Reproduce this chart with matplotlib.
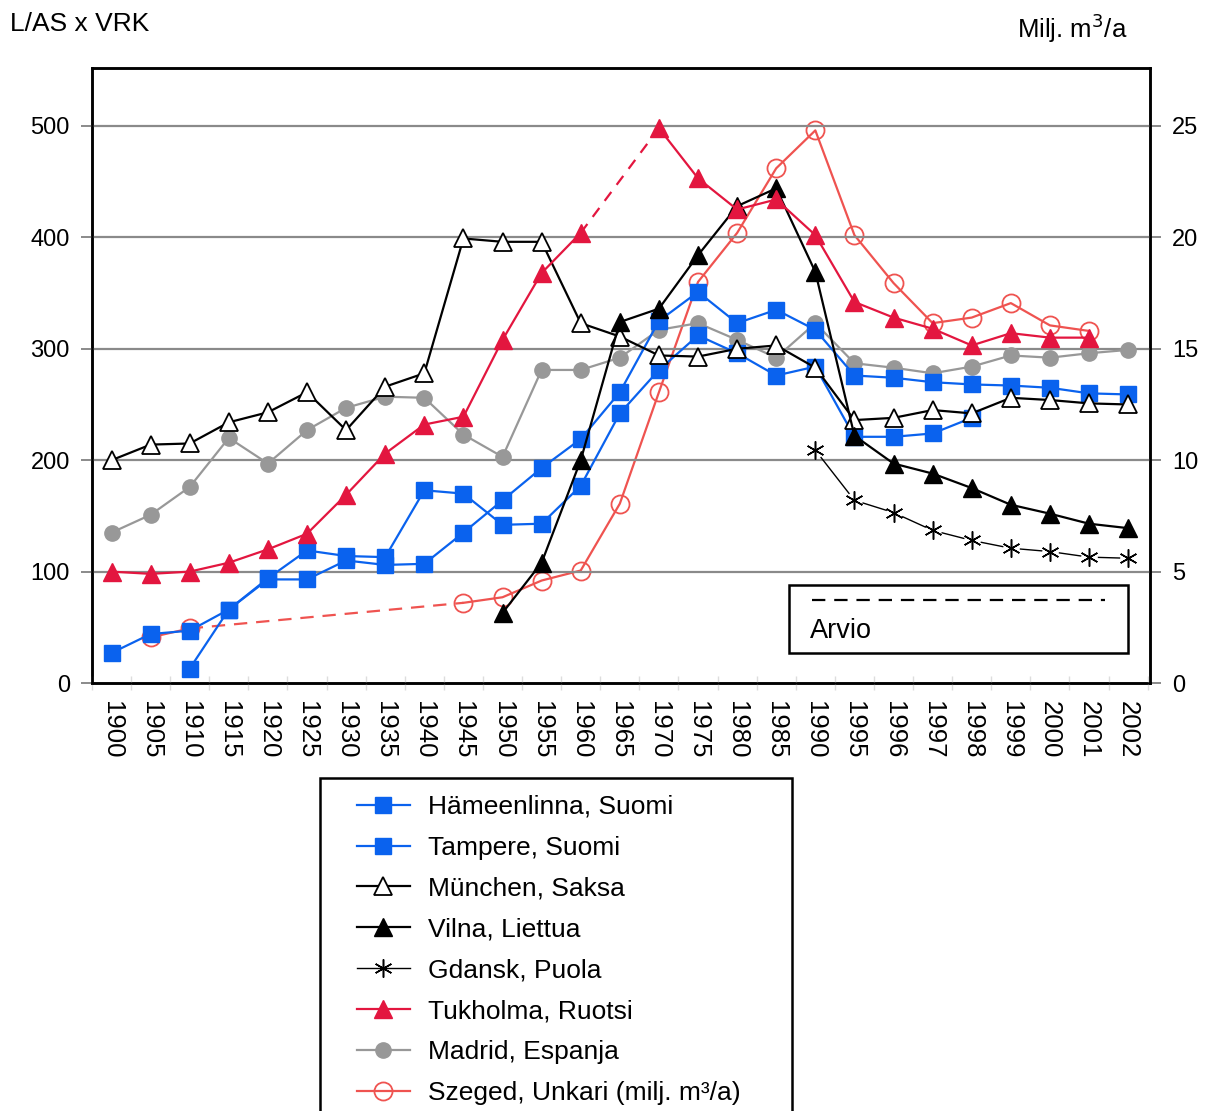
import numpy as np
import matplotlib
matplotlib.use("Agg")
import matplotlib.pyplot as plt
from matplotlib.lines import Line2D
from matplotlib.patches import Rectangle

plt.rcParams['font.family'] = ['Liberation Sans', 'DejaVu Sans']

years = ["1900", "1905", "1910", "1915", "1920", "1925", "1930", "1935", "1940", "1945",
         "1950", "1955", "1960", "1965", "1970", "1975", "1980", "1985", "1990",
         "1995", "1996", "1997", "1998", "1999", "2000", "2001", "2002"]
nan = np.nan

hameenlinna = [27, 44, 47, 66, 94, 119, 114, 113, 173, 170,
               142, 143, 177, 242, 281, 312, 296, 276, 284,
               221, 221, 224, 238, nan, nan, nan, nan]
tampere = [nan, nan, 13, 66, 93, 93, 110, 106, 107, 135,
           164, 193, 219, 261, 325, 351, 323, 335, 317,
           276, 274, 270, 268, 267, 265, 260, 259]
munchen = [200, 214, 215, 234, 243, 261, 227, 266, 278, 399,
           396, 396, 323, 311, 294, 293, 300, 303, 283,
           236, 238, 245, 242, 256, 254, 251, 250]
vilna = [nan, nan, nan, nan, nan, nan, nan, nan, nan, nan,
         63, 108, 200, 324, 336, 384, 428, 444, 369,
         222, 197, 188, 175, 160, 152, 143, 139]
gdansk = [nan] * 18 + [209, 164, 153, 137, 128, 121, 118, 113, 112]
tukholma = [100, 98, 100, 108, 120, 134, 169, 206, 232, 239,
            308, 368, 404, nan, 498, 453, 425, 434, 402,
            342, 328, 318, 303, 314, 310, 310, nan]
madrid = [135, 151, 176, 220, 197, 227, 247, 257, 256, 223,
          203, 281, 281, 292, 317, 323, 308, 292, 323,
          287, 283, 278, 284, 294, 292, 296, 299]
# Szeged in milj. m3/a (right axis)
szeged = [nan, 2.05, 2.45, nan, nan, nan, nan, nan, nan, 3.6,
          3.85, 4.6, 5.05, 8.05, 13.05, 18.0, 20.2, 23.1, 24.8,
          20.1, 17.95, 16.15, 16.4, 17.05, 16.05, 15.8, nan]

x = np.arange(len(years))

BLUE = '#0a62ee'
RED = '#e3163f'
SZ = '#ef5350'
GRAY = '#989898'

fig = plt.figure(figsize=(12.07, 11.11), dpi=100)
ax = fig.add_axes([0.0762, 0.3852, 0.9528 - 0.0762, 0.9388 - 0.3852])
ax2 = ax.twinx()

YMAX = 552
ax.set_ylim(0, YMAX)
ax2.set_ylim(0, YMAX / 20.0)
ax.set_xlim(-0.46, len(years) - 1 + 0.56)

for v in [100, 200, 300, 400, 500]:
    ax.axhline(v, color='#8a8a8a', lw=1.6, zorder=0)

lw = 1.6
# Szeged on right axis (draw first, lies under others)
sz = np.array(szeged)
ax2.plot(x, sz, color=SZ, lw=lw, marker='o', ms=13, mfc='none', mec=SZ, mew=1.3, zorder=3)
ax2.plot(x[[2, 9]], sz[[2, 9]], color=SZ, lw=lw, ls=(0, (6, 4)), zorder=3)

ax.set_zorder(ax2.get_zorder() + 1)
ax.patch.set_visible(False)

ax.plot(x, madrid, color=GRAY, lw=lw, marker='o', ms=11, mfc=GRAY, mec=GRAY, zorder=3)
ax.plot(x, hameenlinna, color=BLUE, lw=lw, marker='s', ms=11, mfc=BLUE, mec=BLUE, zorder=4)
ax.plot(x, tampere, color=BLUE, lw=lw, marker='s', ms=11, mfc=BLUE, mec=BLUE, zorder=4)
ax.plot(x, munchen, color='black', lw=lw, marker='^', ms=13, mfc='white', mec='black', mew=1.3, zorder=5)
ax.plot(x, vilna, color='black', lw=lw, marker='^', ms=13, mfc='black', mec='black', zorder=5)
tk = np.array(tukholma, dtype=float)
ax.plot(x, tk, color=RED, lw=lw, marker='^', ms=13, mfc=RED, mec=RED, zorder=5)
ax.plot(x[[12, 14]], tk[[12, 14]], color=RED, lw=lw, ls=(0, (5, 4)), zorder=5)
gd = np.array(gdansk, dtype=float)
ax.plot(x, gd, color='black', lw=1.0, zorder=5)
ax.plot(x, gd, ls='none', marker='o', ms=12, mfc='white', mec='none', zorder=5)
ax.plot(x, gd, ls='none', marker=(6, 2, 0), ms=13, mec='black', mew=1.1, zorder=6)

# axes styling
for sp in ax.spines.values():
    sp.set_linewidth(1.8)
for sp in ax2.spines.values():
    sp.set_linewidth(1.8)

ax.set_yticks([0, 100, 200, 300, 400, 500])
ax2.set_yticks([0, 5, 10, 15, 20, 25])
ax.tick_params(axis='y', length=8, width=1.2, color='#777777', labelsize=17, pad=8)
ax2.tick_params(axis='y', length=8, width=1.2, color='#777777', labelsize=17, pad=8)
ax.set_xticks(x)
ax.set_xticklabels(years, rotation=-90, fontsize=18.5)
ax.tick_params(axis='x', length=0, pad=13)
ax.set_xticks(np.arange(-0.5, len(years) - 0.5 + 1, 1.0), minor=True)
ax.tick_params(axis='x', which='minor', length=10, direction='inout', color='#dddddd', width=1)

fig.text(0.008, 0.978, "L/AS x VRK", fontsize=19, ha='left', va='center')
fig.text(0.934, 0.975, "Milj. m$^3$/a", fontsize=18.5, ha='right', va='center')

# Arvio box
bx0, bx1 = (789 - 92) / (1150 - 92), (1128 - 92) / (1150 - 92)
by0, by1 = (683 - 653) / (683 - 68), (683 - 585) / (683 - 68)
ax.add_patch(Rectangle((bx0, by0), bx1 - bx0, by1 - by0, transform=ax.transAxes,
                       fill=True, fc='white', ec='black', lw=1.8, zorder=7))
ly = (683 - 600) / (683 - 68)
ax.plot([(812 - 92) / 1058, (1105 - 92) / 1058], [ly, ly], transform=ax.transAxes,
        color='black', lw=1.6, ls=(0, (6, 4)), zorder=8)
ax.text((810 - 92) / 1058, (683 - 631) / 615, "Arvio", transform=ax.transAxes,
        fontsize=19.5, va='center', ha='left', zorder=8)

# Legend
handles = [
    Line2D([], [], color=BLUE, lw=lw, marker='s', ms=11, mfc=BLUE, mec=BLUE),
    Line2D([], [], color=BLUE, lw=lw, marker='s', ms=11, mfc=BLUE, mec=BLUE),
    Line2D([], [], color='black', lw=lw, marker='^', ms=13, mfc='white', mec='black', mew=1.3),
    Line2D([], [], color='black', lw=lw, marker='^', ms=13, mfc='black', mec='black'),
    Line2D([], [], color='black', lw=1.0, marker=(6, 2, 0), ms=13, mec='black', mew=1.1),
    Line2D([], [], color=RED, lw=lw, marker='^', ms=13, mfc=RED, mec=RED),
    Line2D([], [], color=GRAY, lw=lw, marker='o', ms=11, mfc=GRAY, mec=GRAY),
    Line2D([], [], color=SZ, lw=lw, marker='o', ms=13, mfc='none', mec=SZ, mew=1.3),
]
labels = ["Hämeenlinna, Suomi", "Tampere, Suomi", "München, Saksa", "Vilna, Liettua",
          "Gdansk, Puola", "Tukholma, Ruotsi", "Madrid, Espanja",
          "Szeged, Unkari (milj. m³/a)"]
FS = 19
pad_px = 0.45 * FS * 100 / 72
leg = fig.legend(handles, labels, loc='upper left',
                 bbox_to_anchor=((357 - pad_px) / 1207, 1 - 783 / 1111),
                 fontsize=FS, frameon=False, handlelength=2.0, handletextpad=0.68,
                 labelspacing=0.64, borderpad=0.45, borderaxespad=0.0)
fig.patches.append(Rectangle((320 / 1207, -0.02), (792 - 320) / 1207, 1 - 778 / 1111 + 0.02,
                             transform=fig.transFigure, fill=False, ec='black', lw=1.8))

fig.savefig("out.png", dpi=100)
